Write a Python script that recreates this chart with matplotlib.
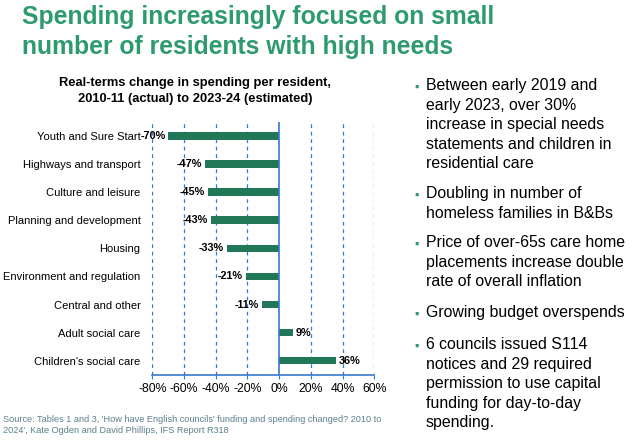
import matplotlib
matplotlib.use("Agg")
import matplotlib.pyplot as plt
from matplotlib.ticker import FuncFormatter

# data
categories = ["Youth and Sure Start", "Highways and transport", "Culture and leisure",
              "Planning and development", "Housing", "Environment and regulation",
              "Central and other", "Adult social care", "Children's social care"]
changes = [-70, -47, -45, -43, -33, -21, -11, 9, 36]
xticks = [-80, -60, -40, -20, 0, 20, 40, 60]

title = "Spending increasingly focused on small\nnumber of residents with high needs"
chart_title = "Real-terms change in spending per resident,\n2010-11 (actual) to 2023-24 (estimated)"
bullets = [
    "Between early 2019 and\nearly 2023, over 30%\nincrease in special needs\nstatements and children in\nresidential care",
    "Doubling in number of\nhomeless families in B&Bs",
    "Price of over-65s care home\nplacements increase double\nrate of overall inflation",
    "Growing budget overspends",
    "6 councils issued S114\nnotices and 29 required\npermission to use capital\nfunding for day-to-day\nspending.",
]
source = ("Source: Tables 1 and 3, 'How have English councils' funding and spending changed? 2010 to\n"
          "2024', Kate Ogden and David Phillips, IFS Report R318")

plt.rcParams['font.family'] = ['Liberation Sans', 'DejaVu Sans']

green = "#2E9B6E"
bar_green = "#217856"
blue = "#3A78C9"

fig = plt.figure(figsize=(6.37, 4.42), dpi=100)
W, H = 637, 442

def fx(px):
    return px / W

def fy(py):
    return 1 - py / H

# big heading
fig.text(fx(22), fy(5), title, color=green, fontsize=17.8, fontweight="bold",
         va="top", ha="left", linespacing=1.34)

# chart heading
fig.text(fx(195), fy(77), chart_title, fontsize=9.3, fontweight="bold",
         ha="center", va="top", linespacing=1.4)

ax = fig.add_axes([fx(152.3), fy(374.7), fx(374.3 - 152.3), (374.7 - 122) / H])
y = list(range(len(categories)))
ax.barh(y, changes, height=0.27, color=bar_green, zorder=3)
ax.set_ylim(len(categories) - 0.5, -0.5)
ax.set_xlim(-80, 60)
ax.set_yticks(y)
ax.set_yticklabels(categories, fontsize=8)
ax.tick_params(axis="y", length=0, pad=8.5)
ax.set_xticks(xticks)
ax.xaxis.set_major_formatter(FuncFormatter(lambda v, p: f"{v:.0f}%"))
ax.tick_params(axis="x", length=3, color=blue, labelsize=8.8, pad=3, direction="out")

for v in xticks:
    if v == 0:
        ax.axvline(v, color=blue, lw=1.2, zorder=4)
    else:
        ax.axvline(v, color=blue, lw=0.9, ls=(0, (3, 3)), zorder=1)

for s in ["top", "right", "left"]:
    ax.spines[s].set_visible(False)
ax.spines["bottom"].set_color(blue)
ax.spines["bottom"].set_linewidth(1.2)

for yi, v in zip(y, changes):
    if v < 0:
        ax.annotate(f"{v}%", (v, yi), xytext=(-2, 0), textcoords="offset points",
                    ha="right", va="center", fontsize=7.8, fontweight="bold", zorder=5)
    else:
        ax.annotate(f"{v}%", (v, yi), xytext=(1.5, 0), textcoords="offset points",
                    ha="left", va="center", fontsize=7.8, fontweight="bold", zorder=5)

# bullets on the right
bullet_y = [87, 195, 244, 314, 346]
for by, txt in zip(bullet_y, bullets):
    fig.text(fx(414), fy(by + 1), "\u25aa", color=green, fontsize=9, va="center", ha="left")
    fig.text(fx(426), fy(by - 9), txt, fontsize=11.4, va="top", ha="left", linespacing=1.38)

fig.text(fx(3), fy(415), source, fontsize=6.6, color="#5B7F8C", va="top", ha="left",
         linespacing=1.3)

fig.savefig("out.png", dpi=100)
